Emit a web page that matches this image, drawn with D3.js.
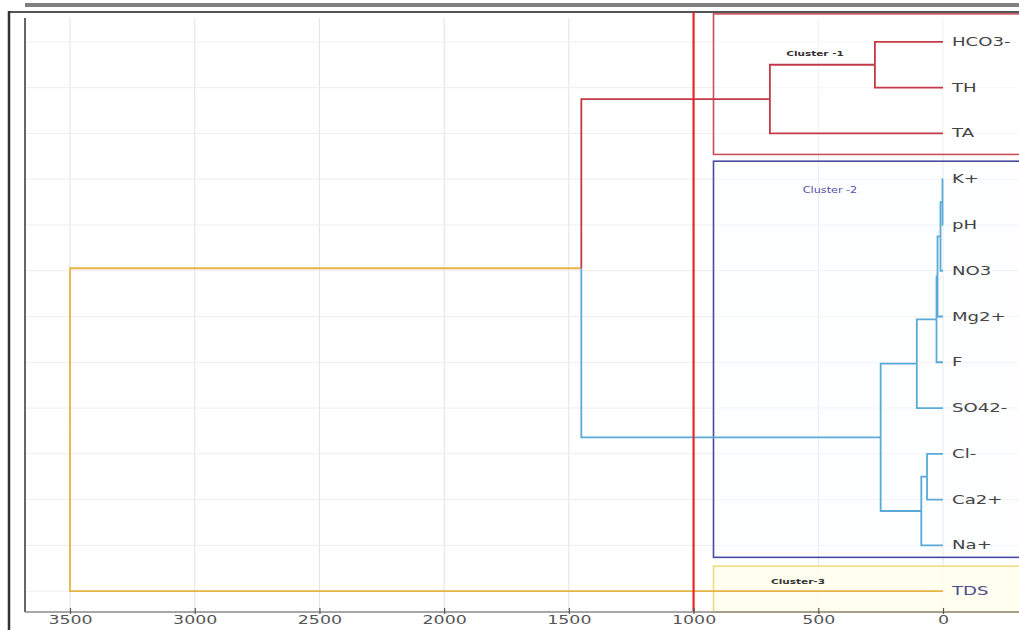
<!DOCTYPE html>
<html>
<head>
<meta charset="utf-8">
<script src="https://cdn.jsdelivr.net/npm/d3@7"></script>
<style>
  html, body { margin: 0; padding: 0; background: #fff; }
  svg { display: block; }
</style>
</head>
<body>
<svg id="chart" width="1019" height="630"></svg>
<script>
// Leaf variables, top to bottom
const leaves = ["HCO3-", "TH", "TA", "K+", "pH", "NO3", "Mg2+", "F", "SO42-", "Cl-", "Ca2+", "Na+", "TDS"];
// Cluster of each leaf (1..3)
const leafCluster = [1, 1, 1, 2, 2, 2, 2, 2, 2, 2, 2, 2, 3];

// Agglomeration steps (R-style: negative = leaf number, positive = earlier step)
const mergeLeft   = [-4, 1, 2, 3, -10, 5, 4, 7, -1, 9, 10, 11];
const mergeRight  = [-5, -6, -7, -8, -11, -12, -9, 6, -2, -3, 8, -13];
const mergeHeight = [2, 10, 22, 26, 64, 87, 105, 250, 273, 694, 1450, 3500];

// Axis ticks and cut height
const tickValues = [3500, 3000, 2500, 2000, 1500, 1000, 500, 0];
const cutHeight = 1000;

// Cluster names
const clusterNames = ["Cluster -1", "Cluster -2", "Cluster-3"];

const clusterColor = { 1: "#c23a48", 2: "#5aaad8", 3: "#e6b444" };
const mixedColor = "#e6b444";

const svg = d3.select("#chart");

// Horizontal height scale (reversed: leaves on the right)
const x = d3.scaleLinear().domain([3500, 0]).range([70, 943]);

// Build the tree from the merge steps
function buildNode(ref) {
  if (ref < 0) {
    const i = -ref - 1;
    return { name: leaves[i], height: 0, cluster: leafCluster[i] };
  }
  const s = ref - 1;
  const a = buildNode(mergeLeft[s]), b = buildNode(mergeRight[s]);
  return {
    height: mergeHeight[s],
    cluster: a.cluster === b.cluster ? a.cluster : 0,
    children: [a, b]
  };
}
const root = d3.hierarchy(buildNode(mergeHeight.length));
const top0 = 19, bandH = 595;
d3.cluster().size([bandH, 1]).separation(() => 1)(root);
root.each(d => { d.py = top0 + d.x; d.px = x(d.data.height); });

const leafNodes = root.leaves();
const plotTop = 18, plotBottom = 612, plotLeft = 25;

// Frame
svg.append("rect").attr("x", 25).attr("y", 3).attr("width", 1000).attr("height", 4).attr("fill", "#808080");
svg.append("line").attr("x1", 8).attr("x2", 1019).attr("y1", 12).attr("y2", 12)
  .attr("stroke", "#555").attr("stroke-width", 2);
svg.append("line").attr("x1", 9).attr("x2", 9).attr("y1", 11).attr("y2", 630)
  .attr("stroke", "#333").attr("stroke-width", 2.5);

// Grid
const grid = svg.append("g");
grid.selectAll("line.v").data(tickValues).join("line")
  .attr("x1", d => x(d)).attr("x2", d => x(d))
  .attr("y1", plotTop).attr("y2", plotBottom)
  .attr("stroke", "#e2e2e2").attr("stroke-width", 1);
grid.selectAll("line.h").data(leafNodes).join("line")
  .attr("x1", plotLeft).attr("x2", 1019)
  .attr("y1", d => d.py).attr("y2", d => d.py)
  .attr("stroke", "#eeeeee").attr("stroke-width", 1);

// Cluster boxes
function clusterExtent(c) {
  const ys = leafNodes.filter(d => d.data.cluster === c).map(d => d.py);
  return [d3.min(ys), d3.max(ys)];
}
const boxStyle = {
  1: { stroke: "#c8505c", fill: "rgba(255,255,255,0.5)", pad: [28, 21] },
  2: { stroke: "#4a4aa2", fill: "rgba(250,252,255,0.4)", pad: [18, 12] },
  3: { stroke: "#efdc7c", fill: "rgba(255,254,236,0.85)", pad: [25, 21] }
};
[1, 2, 3].forEach(c => {
  const [y0, y1] = clusterExtent(c);
  const st = boxStyle[c];
  svg.append("rect")
    .attr("x", 713.5).attr("y", y0 - st.pad[0])
    .attr("width", 330).attr("height", (y1 + st.pad[1]) - (y0 - st.pad[0]))
    .attr("fill", st.fill).attr("stroke", st.stroke).attr("stroke-width", 1.6);
});

// Dendrogram links (elbow style)
const linkColor = d => d.data.cluster ? clusterColor[d.data.cluster] : mixedColor;
svg.append("g").attr("fill", "none").attr("stroke-width", 1.8)
  .selectAll("path").data(root.descendants().filter(d => d.parent)).join("path")
  .attr("stroke", linkColor)
  .attr("d", d => `M${d.parent.px},${d.parent.py}V${d.py}H${d.px}`);

// Cut line
svg.append("line").attr("x1", x(cutHeight)).attr("x2", x(cutHeight))
  .attr("y1", 12).attr("y2", plotBottom)
  .attr("stroke", "#e8262b").attr("stroke-width", 2.2);

// Axis lines
svg.append("line").attr("x1", plotLeft).attr("x2", plotLeft).attr("y1", plotTop).attr("y2", plotBottom)
  .attr("stroke", "#666").attr("stroke-width", 2);
svg.append("line").attr("x1", plotLeft).attr("x2", 1019).attr("y1", plotBottom).attr("y2", plotBottom)
  .attr("stroke", "#8a8a8a").attr("stroke-width", 1.5);

// Bottom axis
const axis = d3.axisBottom(x).tickValues(tickValues).tickSize(0).tickFormat(d3.format("d"));
const ax = svg.append("g").attr("transform", `translate(0,${plotBottom})`).call(axis);
ax.select(".domain").remove();
ax.selectAll(".tick").append("line").attr("y1", -4).attr("y2", 2).attr("stroke", "#555").attr("stroke-width", 1.2);
ax.selectAll(".tick text")
  .attr("y", 0).attr("dy", 0)
  .attr("transform", "translate(0,9) scale(1.45,1)")
  .attr("fill", "#555")
  .attr("font-family", "DejaVu Sans").attr("font-size", 12)
  .attr("dominant-baseline", "middle");

// Leaf labels
svg.append("g").selectAll("text").data(leafNodes).join("text")
  .attr("transform", d => `translate(952,${d.py}) scale(1.45,1)`)
  .attr("dominant-baseline", "central")
  .attr("font-family", "DejaVu Sans").attr("font-size", 12.5)
  .attr("fill", d => d.data.cluster === 3 ? "#4c4c8c" : "#444")
  .text(d => d.data.name);

// Cluster names
const nameSpec = [
  { x: 815, y: 54, color: "#333", weight: "bold", size: 7.5 },
  { x: 830, y: 190, color: "#5050a8", weight: "normal", size: 8 },
  { x: 798, y: 582, color: "#333", weight: "bold", size: 7.5 }
];
clusterNames.forEach((n, i) => {
  const s = nameSpec[i];
  svg.append("text")
    .attr("transform", `translate(${s.x},${s.y}) scale(1.4,1)`)
    .attr("text-anchor", "middle").attr("dominant-baseline", "central")
    .attr("font-family", "DejaVu Sans").attr("font-size", s.size)
    .attr("font-weight", s.weight).attr("fill", s.color)
    .text(n);
});
</script>
</body>
</html>
